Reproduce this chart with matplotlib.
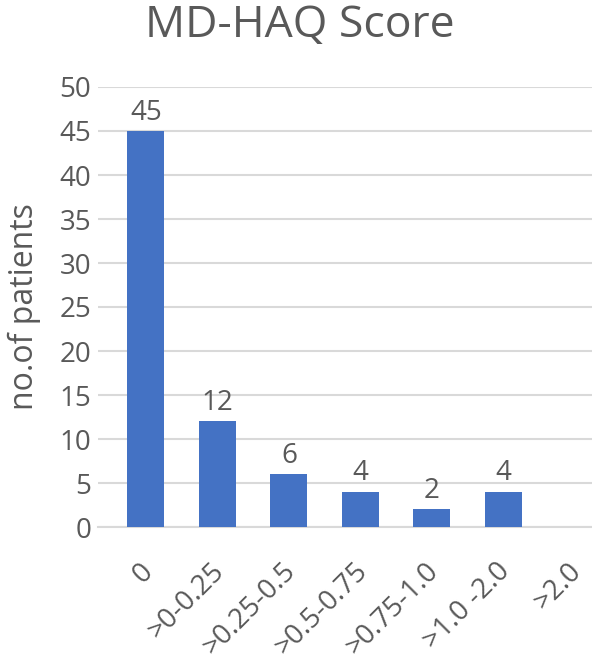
import numpy as np
import matplotlib.pyplot as plt
import matplotlib.transforms as mtransforms

# MD-HAQ score groups and patient counts
categories = ['0', '>0-0.25', '>0.25-0.5', '>0.5-0.75', '>0.75-1.0', '>1.0 -2.0', '>2.0']
patients = [45, 12, 6, 4, 2, 4, 0]
y_ticks = [0, 5, 10, 15, 20, 25, 30, 35, 40, 45, 50]

plt.rcParams['font.family'] = ['Open Sans', 'DejaVu Sans']
text_col = '#595959'
bar_col = '#4472C4'
grid_col = '#D9D9D9'

fig = plt.figure(figsize=(5.92, 6.70), dpi=100)
ax = fig.add_axes([98 / 592, 1 - 527 / 670, 1 - 98 / 592, (527 - 87) / 670])

x = np.arange(len(categories))
ax.bar(x, patients, width=0.52, color=bar_col, zorder=3)

# value labels (no label for the empty group)
for xi, v in zip(x, patients):
    if v > 0:
        ax.text(xi, v + 0.5, str(v), ha='center', va='bottom', fontsize=20, color=text_col)

ax.set_xlim(-0.67, 6.24)
ax.set_ylim(0, 50)
ax.set_yticks(y_ticks)
ax.yaxis.grid(True, color=grid_col, linewidth=1.5, zorder=0)
ax.tick_params(axis='y', length=0, labelsize=20, labelcolor=text_col, pad=5)
ax.tick_params(axis='x', length=0, labelsize=20, labelcolor=text_col, pad=22)
ax.set_xticks(x)
ax.set_xticklabels(categories, rotation=45, ha='right', va='top', rotation_mode='anchor')
shift = mtransforms.ScaledTranslation(-7 / 100, 0, fig.dpi_scale_trans)
for lbl in ax.get_xticklabels():
    lbl.set_transform(lbl.get_transform() + shift)

for s in ['top', 'right', 'left']:
    ax.spines[s].set_visible(False)
ax.spines['bottom'].set_color(grid_col)
ax.spines['bottom'].set_linewidth(1.5)

ax.set_ylabel('no.of patients', fontsize=23, color=text_col, labelpad=13)
fig.text(0.507, 1 - 37 / 670, 'MD-HAQ Score', ha='center', va='baseline', fontsize=32, color=text_col)

fig.savefig('out.png', dpi=100)
